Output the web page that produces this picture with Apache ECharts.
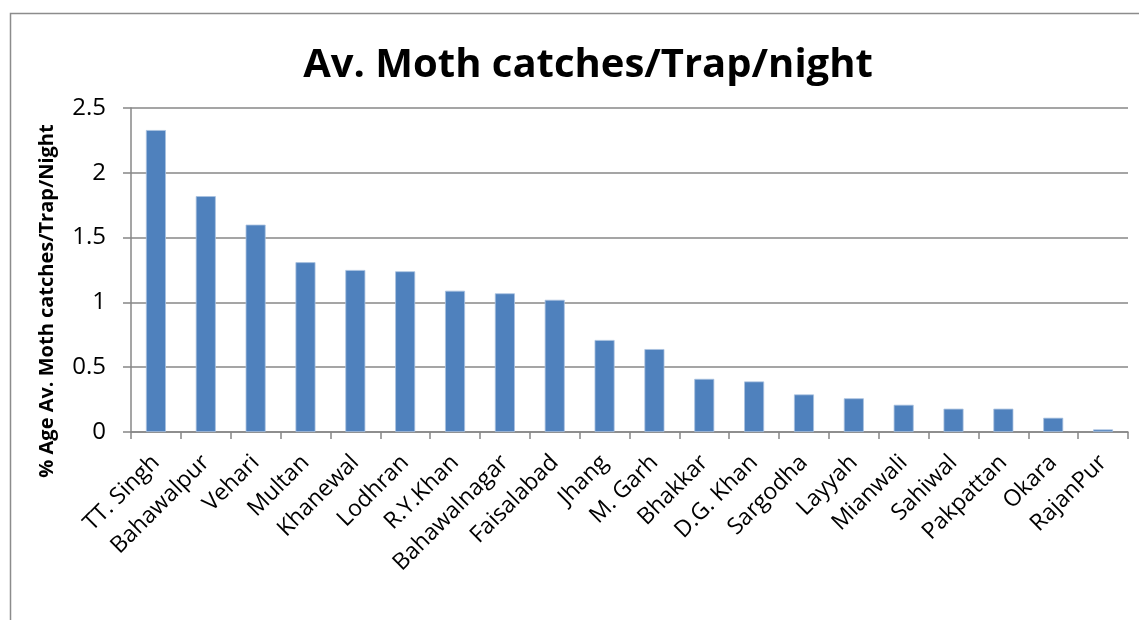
<!DOCTYPE html>
<html>
<head>
<meta charset="utf-8">
<script src="https://cdn.jsdelivr.net/npm/echarts@6/dist/echarts.min.js"></script>
<style>
html,body{margin:0;padding:0;background:#fff;}
#chart{width:1139px;height:620px;}
</style>
</head>
<body>
<div id="chart"></div>
<script>
const titleText = 'Av. Moth catches/Trap/night';
const yAxisTitle = '% Age Av. Moth catches/Trap/Night';
const districts = ['TT. Singh','Bahawalpur','Vehari','Multan','Khanewal','Lodhran','R.Y.Khan','Bahawalnagar','Faisalabad','Jhang','M. Garh','Bhakkar','D.G. Khan','Sargodha','Layyah','Mianwali','Sahiwal','Pakpattan','Okara','RajanPur'];
const catches = [2.33,1.82,1.60,1.31,1.25,1.24,1.09,1.07,1.02,0.71,0.64,0.41,0.39,0.29,0.26,0.21,0.18,0.18,0.11,0.02];
const yTicks = [0,0.5,1,1.5,2,2.5];

const chart = echarts.init(document.getElementById('chart'), null, {renderer:'canvas'});
const gridColor = '#878787';
chart.setOption({
  animation:false,
  backgroundColor:'#fff',
  title:{
    text:titleText,
    left:583, top:41, textAlign:'center',
    textStyle:{fontFamily:'Open Sans', fontWeight:'bold', fontSize:40, color:'#000'}
  },
  graphic:[
    {type:'rect', silent:true, shape:{x:10.5,y:13.5,width:1200,height:700},
     style:{fill:'none', stroke:'#8c8c8c', lineWidth:1.5}},
    {type:'text', silent:true, x:47, y:301, rotation:Math.PI/2,
     style:{text:yAxisTitle, fontFamily:'Open Sans', fontWeight:'bold', fontSize:20, fill:'#000',
            align:'center', verticalAlign:'middle'}}
  ],
  grid:{left:131, right:11, top:108, bottom:188, containLabel:false},
  xAxis:{
    type:'category', data:districts,
    axisLine:{lineStyle:{color:gridColor, width:1.5}},
    axisTick:{show:true, alignWithLabel:false, length:7, lineStyle:{color:gridColor, width:1.5}},
    axisLabel:{rotate:45, margin:27, interval:0, fontFamily:'Open Sans', fontSize:23, color:'#000'}
  },
  yAxis:{
    type:'value', min:0, max:2.5, interval:0.5,
    axisLine:{show:true, lineStyle:{color:gridColor, width:1.5}},
    axisTick:{show:true, length:8, inside:false, lineStyle:{color:gridColor, width:1.5}},
    splitLine:{show:true, lineStyle:{color:gridColor, width:1.5}},
    axisLabel:{margin:25, fontFamily:'Open Sans', fontSize:24, color:'#000',
      formatter:function(v){ return yTicks.indexOf(v) >= 0 ? String(v) : ''; }}
  },
  series:[{
    type:'bar', data:catches, barWidth:20,
    itemStyle:{color:'#4f81bd', borderColor:'#a9c1df', borderWidth:0.8}
  }]
});
</script>
</body>
</html>
